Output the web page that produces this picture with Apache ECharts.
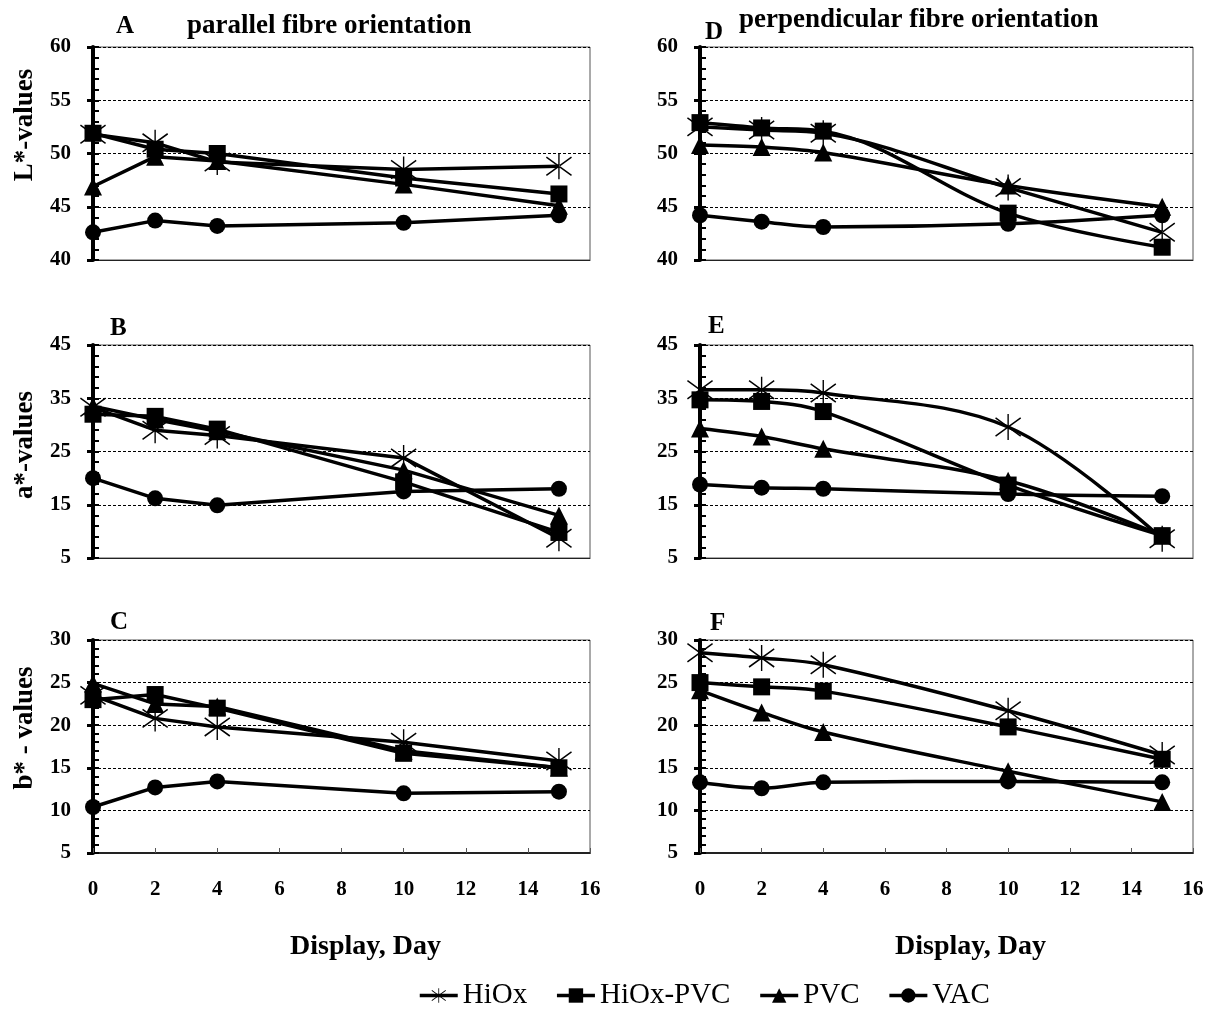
<!DOCTYPE html>
<html><head><meta charset="utf-8">
<script src="https://cdn.jsdelivr.net/npm/echarts@6/dist/echarts.min.js"></script>
<style>html,body{margin:0;padding:0;background:#fff}#c{width:1213px;height:1019px}</style>
</head><body><div id="c"></div>
<script>
const days = [0, 2, 4, 10, 15];
const seriesNames = ['HiOx', 'HiOx-PVC', 'PVC', 'VAC'];

// A: L*, parallel
const parL_HiOx    = [51.8, 51.0, 49.2, 48.5, 48.8];
const parL_HiOxPVC = [51.9, 50.4, 50.0, 47.7, 46.2];
const parL_PVC     = [46.9, 49.7, 49.3, 47.1, 45.1];
const parL_VAC     = [42.6, 43.7, 43.2, 43.5, 44.2];
// B: a*, parallel
const parA_HiOx    = [33.3, 29.0, 28.0, 23.8, 8.7];
const parA_HiOxPVC = [32.0, 31.6, 29.2, 19.3, 9.8];
const parA_PVC     = [33.5, 31.0, 28.8, 21.5, 13.0];
const parA_VAC     = [20.0, 16.2, 14.9, 17.5, 18.0];
// C: b*, parallel
const parB_HiOx    = [23.5, 20.8, 19.8, 18.0, 15.8];
const parB_HiOxPVC = [23.0, 23.6, 22.0, 16.7, 15.0];
const parB_PVC     = [24.9, 22.5, 22.2, 17.0, 15.0];
const parB_VAC     = [10.4, 12.7, 13.4, 12.0, 12.2];
// D: L*, perpendicular
const perL_HiOx    = [52.5, 52.2, 51.9, 46.8, 42.6];
const perL_HiOxPVC = [52.9, 52.4, 52.1, 44.4, 41.2];
const perL_PVC     = [50.8, 50.6, 50.1, 47.0, 45.0];
const perL_VAC     = [44.2, 43.6, 43.1, 43.4, 44.2];
// E: a*, perpendicular
const perA_HiOx    = [36.6, 36.6, 36.0, 29.6, 8.6];
const perA_HiOxPVC = [34.7, 34.4, 32.5, 18.7, 9.2];
const perA_PVC     = [29.3, 27.8, 25.5, 19.5, 9.2];
const perA_VAC     = [18.8, 18.2, 18.0, 17.0, 16.6];
// F: b*, perpendicular
const perB_HiOx    = [28.5, 27.9, 27.1, 21.7, 16.5];
const perB_HiOxPVC = [25.0, 24.5, 24.0, 19.8, 16.0];
const perB_PVC     = [24.1, 21.5, 19.2, 14.6, 11.0];
const perB_VAC     = [13.3, 12.6, 13.3, 13.4, 13.3];

const FONT = 'Liberation Serif';
const ASTER = 'path://M-0.55,-10L0.55,-10L0.55,10L-0.55,10Z' +
  'M-9.66,-7.49L10.34,6.51L9.66,7.49L-10.34,-6.51Z' +
  'M-9.66,7.49L10.34,-6.51L9.66,-7.49L-10.34,6.51Z';
const symbols = [ASTER, 'rect', 'triangle', 'circle'];
const symbolSizes = [26, 17, 18, 16];

const panels = [
  {sets:[parL_HiOx,parL_HiOxPVC,parL_PVC,parL_VAC], min:40,max:60,interval:5, col:0,row:0, smooth:false},
  {sets:[parA_HiOx,parA_HiOxPVC,parA_PVC,parA_VAC], min:5,max:45,interval:10, col:0,row:1, smooth:false},
  {sets:[parB_HiOx,parB_HiOxPVC,parB_PVC,parB_VAC], min:5,max:30,interval:5, col:0,row:2, smooth:false},
  {sets:[perL_HiOx,perL_HiOxPVC,perL_PVC,perL_VAC], min:40,max:60,interval:5, col:1,row:0, smooth:true},
  {sets:[perA_HiOx,perA_HiOxPVC,perA_PVC,perA_VAC], min:5,max:45,interval:10, col:1,row:1, smooth:true},
  {sets:[perB_HiOx,perB_HiOxPVC,perB_PVC,perB_VAC], min:5,max:30,interval:5, col:1,row:2, smooth:true}
];
const colLeft = [93, 700], colWidth = [497, 493];
const rowTop = [47, 345, 640], rowHeight = 213;

const grid = [], xAxis = [], yAxis = [], series = [];
panels.forEach((p, i) => {
  grid.push({left: colLeft[p.col], top: rowTop[p.row], width: colWidth[p.col], height: rowHeight,
    show: true, borderColor: '#555', borderWidth: 1, backgroundColor: 'transparent'});
  const bottom = p.row === 2;
  xAxis.push({type: 'value', gridIndex: i, min: 0, max: 16, interval: 2,
    axisLine: {show: true, onZero: false, lineStyle: {color: '#222', width: bottom ? 2 : 1}},
    axisTick: {show: bottom, inside: true, length: 5, lineStyle: {color: '#555', width: 1}},
    axisLabel: {show: bottom, fontFamily: FONT, fontWeight: 'bold', fontSize: 21, color: '#000', margin: 26},
    splitLine: {show: false},
    name: bottom ? 'Display, Day' : '', nameLocation: 'middle', nameGap: 80,
    nameTextStyle: {fontFamily: FONT, fontWeight: 'bold', fontSize: 28, color: '#000', padding: [0,0,0,48]}
  });
  // main y axis (labels, inside ticks, grid lines)
  yAxis.push({type: 'value', gridIndex: i, position: 'left', min: p.min, max: p.max, interval: p.interval,
    axisLine: {show: true, onZero: false, lineStyle: {color: '#000', width: 4}},
    axisTick: {show: true, inside: true, length: 6, lineStyle: {color: '#000', width: 2}},
    minorTick: {show: true, splitNumber: 5, length: 6, lineStyle: {color: '#000', width: 2}},
    axisLabel: {fontFamily: FONT, fontWeight: 'bold', fontSize: 21, color: '#000', margin: 22},
    splitLine: {show: true, lineStyle: {color: '#000', type: [3, 2], width: 1}}
  });
  // companion y axis on the same left edge: outward major ticks only
  yAxis.push({type: 'value', gridIndex: i, position: 'left', offset: 0, min: p.min, max: p.max, interval: p.interval,
    axisLine: {show: false, onZero: false},
    axisTick: {show: true, inside: false, length: 6, lineStyle: {color: '#000', width: 3}},
    axisLabel: {show: false}, splitLine: {show: false}
  });
  p.sets.forEach((vals, k) => {
    series.push({
      name: seriesNames[k], type: 'line', xAxisIndex: i, yAxisIndex: 2 * i,
      data: days.map((d, j) => [d, vals[j]]),
      smooth: p.smooth ? 0.35 : false,
      symbol: symbols[k], symbolSize: symbolSizes[k],
      lineStyle: {color: '#000', width: 3.5},
      itemStyle: {color: '#000'},
      z: 3 + k, animation: false
    });
  });
});

const titleStyle = {fontFamily: FONT, fontWeight: 'bold', fontSize: 25, color: '#000'};
const titleStyle2 = {fontFamily: FONT, fontWeight: 'bold', fontSize: 27, color: '#000'};
const title = [
  {text: 'A', left: 111, top: 9, textStyle: titleStyle},
  {text: 'parallel fibre orientation', left: 182, top: 8, textStyle: titleStyle2},
  {text: 'D', left: 700, top: 15, textStyle: titleStyle},
  {text: 'perpendicular fibre orientation', left: 734, top: 2, textStyle: titleStyle2},
  {text: 'B', left: 105, top: 311, textStyle: titleStyle},
  {text: 'E', left: 703, top: 309, textStyle: titleStyle},
  {text: 'C', left: 105, top: 605, textStyle: titleStyle},
  {text: 'F', left: 705, top: 606, textStyle: titleStyle}
];

const yNames = [['L*-values', 125], ['a*-values', 445], ['b* - values', 728]];
const graphic = yNames.map(([t, y]) => ({
  type: 'text', x: 25, y: y, rotation: Math.PI / 2,
  style: {text: t, fontFamily: FONT, fontWeight: 'bold', fontSize: 27, fill: '#000',
    align: 'center', verticalAlign: 'middle'}
}));

const chart = echarts.init(document.getElementById('c'), null, {renderer: 'canvas'});
chart.setOption({
  backgroundColor: '#fff',
  animation: false,
  title: title,
  graphic: graphic,
  grid: grid, xAxis: xAxis, yAxis: yAxis, series: series,
  legend: {
    data: seriesNames, bottom: 4, left: 413, itemWidth: 38, itemHeight: 18, itemGap: 28,
    lineStyle: {width: 3.5, color: '#000'},
    textStyle: {fontFamily: FONT, fontSize: 29, color: '#000'}
  }
});
</script></body></html>
